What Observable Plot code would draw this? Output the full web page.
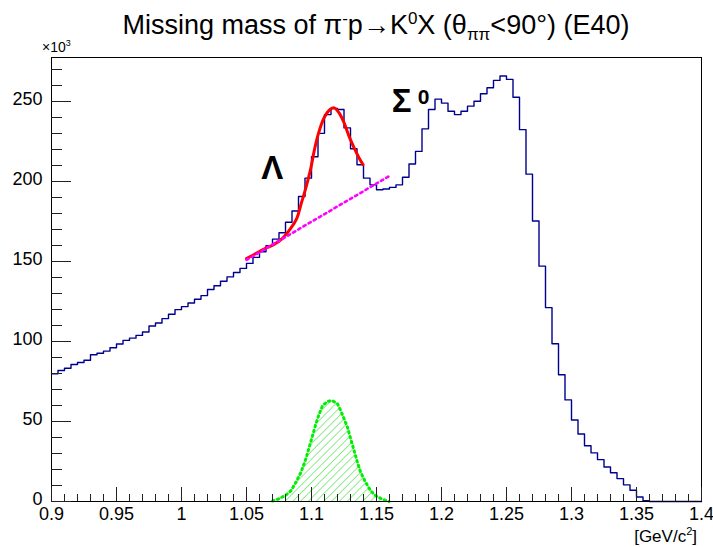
<!DOCTYPE html>
<html><head><meta charset="utf-8">
<script src="https://cdn.jsdelivr.net/npm/d3@7"></script>
<script src="https://cdn.jsdelivr.net/npm/@observablehq/plot@0.6"></script>
<style>
body{margin:0;background:#fff;}
svg{font-family:"Liberation Sans",Arial,Helvetica,sans-serif;}
</style>
</head><body><div id="chart"></div>
<script>
// Histogram: 100 bins of 0.005 GeV/c^2 from 0.9 to 1.4, counts in units of 10^3
const binStart = 0.9;
const binWidth = 0.005;
const counts = [
  79.8, 81.9, 83.3, 85.6, 86.9, 88.3, 91.7, 92.7, 94.0, 96.1,
  98.4, 100.7, 102.1, 103.8, 105.9, 109.7, 111.6, 114.3, 117.0, 119.9,
  121.8, 124.1, 126.4, 128.7, 132.5, 134.8, 137.7, 140.4, 143.1, 145.7,
  148.8, 152.6, 156.1, 159.9, 164.0, 168.0, 174.5, 181.6, 190.6, 202.1,
  215.5, 230.1, 241.8, 245.6, 245.0, 233.5, 220.5, 210.5, 202.1, 197.9,
  194.8, 195.3, 196.3, 197.9, 202.7, 210.9, 218.8, 232.9, 245.0, 251.5,
  249.0, 243.9, 241.8, 243.9, 247.1, 250.2, 254.8, 258.6, 263.2, 265.9,
  263.8, 252.7, 232.4, 204.6, 175.3, 147.1, 121.2, 98.6, 79.2, 63.5,
  50.9, 42.2, 34.8, 30.4, 26.2, 21.6, 18.0, 14.3, 10.4, 7.0,
  2.8, 0.5, 0, 0, 0, 0, 0, 0, 0, 0
];

// Red fit curve (signal + background)
const fitX = [1.050, 1.0559, 1.0635, 1.0712, 1.0777, 1.0841, 1.0887, 1.0918, 1.0956, 1.0995,
              1.1020, 1.1051, 1.1097, 1.1143, 1.1174, 1.1212, 1.1251, 1.1289, 1.1328, 1.1366, 1.1397];
const fitY = [151.9, 154.4, 157.8, 160.7, 164.5, 170.8, 177.0, 185.4, 195.9, 208.4,
              218.8, 229.3, 239.8, 245.0, 246.0, 242.9, 236.6, 228.2, 221.0, 214.7, 210.5];

// Magenta dotted background line
const bkgX = [1.05, 1.16];
const bkgY = [151.0, 203.5];

// Green signal component (hatched)
const sigX = [1.0700, 1.0751, 1.0802, 1.0841, 1.0879, 1.0918, 1.0956, 1.0982, 1.1008, 1.1033,
              1.1059, 1.1085, 1.1123, 1.1162, 1.1200, 1.1225, 1.1251, 1.1277, 1.1302, 1.1328,
              1.1354, 1.1379, 1.1418, 1.1456, 1.1495, 1.1546, 1.1597];
const sigY = [0.3, 1.8, 3.9, 6.6, 11.8, 18.1, 26.5, 33.8, 41.1, 48.4,
              54.7, 59.9, 62.6, 63.0, 61.0, 56.8, 51.6, 46.3, 39.0, 31.7,
              24.3, 18.1, 11.8, 6.6, 3.5, 1.4, 0];

// Axis ticks and labels
const xMajor = [0.9, 0.95, 1.0, 1.05, 1.1, 1.15, 1.2, 1.25, 1.3, 1.35, 1.4];
const xLabels = ["0.9", "0.95", "1", "1.05", "1.1", "1.15", "1.2", "1.25", "1.3", "1.35", "1.4"];
const yMajor = [0, 50, 100, 150, 200, 250];
const yLabels = ["0", "50", "100", "150", "200", "250"];

// Peak labels
const peakLabels = [
  {x: 1.0698, y: 208, text: "Λ", size: 33},
  {x: 1.1694, y: 250.3, text: "Σ", size: 33},
  {x: 1.1862, y: 252.8, text: "0", size: 21}
];

const W = 713, H = 547;
const mL = 51, mR = 12, mT = 57, mB = 46;
const xDom = [0.9, 1.4], yDom = [0, 277.5];
const plotW = W - mL - mR, plotH = H - mT - mB;
const xPerPx = (xDom[1] - xDom[0]) / plotW;
const yPerPx = (yDom[1] - yDom[0]) / plotH;

const hist = counts.map((c, i) => ({x: binStart + i * binWidth, y: c}));
hist.push({x: binStart + counts.length * binWidth, y: counts[counts.length - 1]});
const fit = fitX.map((x, i) => ({x, y: fitY[i]}));
const bkg = bkgX.map((x, i) => ({x, y: bkgY[i]}));
const sig = sigX.map((x, i) => ({x, y: sigY[i]}));

const xMinor = d3.range(0, 51).map(i => +(0.9 + i * 0.01).toFixed(3)).filter(v => !xMajor.some(m => Math.abs(m - v) < 1e-6));
const yMinor = d3.range(0, 28).map(i => i * 10).filter(v => v % 50 !== 0);

const chart = Plot.plot({
  width: W, height: H,
  marginLeft: mL, marginRight: mR, marginTop: mT, marginBottom: mB,
  x: {domain: xDom, axis: null},
  y: {domain: yDom, axis: null},
  style: {fontFamily: '"Liberation Sans", Arial, sans-serif', background: "white", overflow: "visible"},
  marks: [
    Plot.areaY(sig, {x: "x", y: "y", fill: "url(#hatch3004)"}),
    Plot.line(sig, {x: "x", y: "y", stroke: "#00ee00", strokeWidth: 3, strokeDasharray: "1.5,3.5", strokeLinecap: "round"}),
    Plot.line(hist, {x: "x", y: "y", curve: "step-after", stroke: "#00008f", strokeWidth: 1.4}),
    Plot.line(fit, {x: "x", y: "y", curve: "catmull-rom", stroke: "#ff0000", strokeWidth: 3}),
    Plot.line(bkg, {x: "x", y: "y", stroke: "#ff00ff", strokeWidth: 2.6, strokeDasharray: "2.5,3.5"}),
    Plot.frame({stroke: "black", strokeWidth: 1}),
    Plot.ruleX(xMajor, {x: d => d, y1: 0, y2: 14 * yPerPx, stroke: "#222", strokeWidth: 1}),
    Plot.ruleX(xMinor, {x: d => d, y1: 0, y2: 7 * yPerPx, stroke: "#222", strokeWidth: 1}),
    Plot.ruleY(yMajor, {y: d => d, x1: 0.9, x2: 0.9 + 20 * xPerPx, stroke: "#222", strokeWidth: 1}),
    Plot.ruleY(yMinor, {y: d => d, x1: 0.9, x2: 0.9 + 11 * xPerPx, stroke: "#222", strokeWidth: 1}),
    Plot.text(xMajor, {x: d => d, y: 0, text: (d, i) => xLabels[i], dy: 6, lineAnchor: "top", fontSize: 18, fill: "black"}),
    Plot.text(yMajor, {x: 0.9, y: d => d, text: (d, i) => yLabels[i], dx: -9, dy: -2, textAnchor: "end", fontSize: 18, fill: "black"}),
    Plot.text(peakLabels, {x: "x", y: "y", text: "text", fontSize: d => d.size, fontWeight: "bold", fill: "black"})
  ]
});

const svg = d3.select(chart);
// hatch pattern (ROOT fill style 3004)
const defs = svg.insert("defs", ":first-child");
defs.append("pattern")
  .attr("id", "hatch3004").attr("patternUnits", "userSpaceOnUse")
  .attr("width", 5.5).attr("height", 5.5).attr("patternTransform", "rotate(45)")
  .append("line").attr("x1", 0).attr("y1", 0).attr("x2", 0).attr("y2", 5.5)
  .attr("stroke", "#33dd33").attr("stroke-width", 1.1);

// Title with super/subscripts
const t = svg.append("text").attr("x", 376).attr("y", 34).attr("text-anchor", "middle")
  .attr("font-size", 27).attr("fill", "black");
t.append("tspan").text("Missing mass of π");
t.append("tspan").attr("dy", -10).attr("font-size", 17).text("-");
t.append("tspan").attr("dy", 10).text("p→K");
t.append("tspan").attr("dy", -10).attr("font-size", 17).text("0");
t.append("tspan").attr("dy", 10).text("X (θ");
t.append("tspan").attr("dy", 6).attr("font-size", 17).text("ππ");
t.append("tspan").attr("dy", -6).text("<90°) (E40)");

// Exponent label of the y axis
const e = svg.append("text").attr("x", 42).attr("y", 52).attr("text-anchor", "start")
  .attr("font-size", 14).attr("fill", "black");
e.append("tspan").text("×10");
e.append("tspan").attr("dy", -6).attr("font-size", 9).text("3");

// x-axis title
const a = svg.append("text").attr("x", 697).attr("y", 542).attr("text-anchor", "end")
  .attr("font-size", 17).attr("fill", "black");
a.append("tspan").text("[GeV/c");
a.append("tspan").attr("dy", -7).attr("font-size", 11).text("2");
a.append("tspan").attr("dy", 7).text("]");

document.getElementById("chart").appendChild(chart);
</script>
</body></html>
